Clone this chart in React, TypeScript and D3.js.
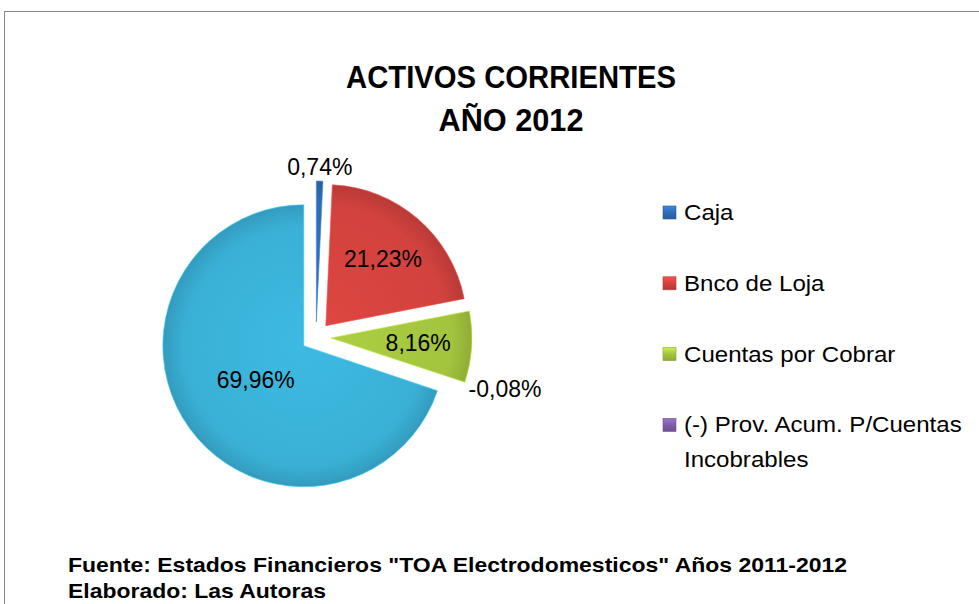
import React from "react";
import * as d3 from "d3";

const categories = ["Caja", "Bnco de Loja", "Cuentas por Cobrar", "(-) Prov. Acum. P/Cuentas Incobrables", "Inventarios"];
const values = [0.74, 21.23, 8.16, -0.08, 69.96];
const labels = ["0,74%", "21,23%", "8,16%", "-0,08%", "69,96%"];
const legendLines = [["Caja"], ["Bnco de Loja"], ["Cuentas por Cobrar"], ["(-) Prov. Acum. P/Cuentas", "Incobrables"]];
const colors = ["#2F6DB5", "#D2423E", "#A3C43E", "#7E5DA8", "#3AB0D6"];
const titleLines = ["ACTIVOS CORRIENTES", "AÑO 2012"];
const footerLines = ["Fuente: Estados Financieros \"TOA Electrodomesticos\" Años 2011-2012", "Elaborado: Las Autoras"];

const W = 979, H = 604;
const CX = 316, CY = 337, R = 141, EXPLODE = 15;
const FONT = "'Liberation Sans', Arial, sans-serif";

export default function App() {
  const data = categories.map((c, i) => ({ c, v: values[i], i }));
  const pie = d3.pie<any>().value((d) => Math.abs(d.v)).sort(null).startAngle(0).endAngle(2 * Math.PI);
  const arcs = pie(data);
  const arcGen = d3.arc<any>().innerRadius(0).outerRadius(R);
  const shade = (c: string, k: number) => d3.color(c)!.brighter(k).formatHex();

  return (
    <svg width={W} height={H} style={{ position: "absolute", left: 0, top: 0, background: "#fff" }} fontFamily={FONT}>
      <defs>
        {colors.map((c, i) => (
          <radialGradient key={i} id={`g${i}`} gradientUnits="userSpaceOnUse" cx={0} cy={0} r={R} fx={0} fy={0}>
            <stop offset="0%" stopColor={shade(c, 0.15)} />
            <stop offset="85%" stopColor={c} />
            <stop offset="100%" stopColor={shade(c, -0.35)} />
          </radialGradient>
        ))}
        {colors.map((c, i) => (
          <linearGradient key={"l" + i} id={`lg${i}`} x1="0" y1="0" x2="0" y2="1">
            <stop offset="0%" stopColor={shade(c, 0.6)} />
            <stop offset="50%" stopColor={c} />
            <stop offset="100%" stopColor={shade(c, -0.4)} />
          </linearGradient>
        ))}
      </defs>
      <rect x={0} y={0} width={W} height={H} fill="#fff" />
      <rect x={4.5} y={11.5} width={1200} height={1200} fill="none" stroke="#8a8a8a" strokeWidth={1} />

      {titleLines.map((t, i) => (
        <text key={t} x={511} y={88 + i * 43} textAnchor="middle" fontSize={31} fontWeight="bold" fill="#000"
          textLength={i === 0 ? 330 : 145} lengthAdjust="spacingAndGlyphs">{t}</text>
      ))}

      {arcs.map((a, i) => {
        if (a.data.v < 0) return null;
        const mid = (a.startAngle + a.endAngle) / 2;
        const dx = Math.sin(mid) * EXPLODE, dy = -Math.cos(mid) * EXPLODE;
        return (
          <g key={i} transform={`translate(${CX + dx},${CY + dy})`}>
            <path d={arcGen(a) as string} fill={`url(#g${i})`} stroke={shade(colors[i], 0.5)} strokeOpacity={0.6} strokeWidth={1} />
          </g>
        );
      })}

      {arcs.map((a, i) => {
        const mid = (a.startAngle + a.endAngle) / 2;
        const ux = Math.sin(mid), uy = -Math.cos(mid);
        const frac = Math.abs(a.data.v) / 100;
        if (frac < 0.03) {
          const dist = R + EXPLODE + 8;
          const ax = CX + ux * dist, ay = CY + uy * dist;
          const horiz = Math.abs(ux) > Math.abs(uy);
          const anchor = horiz ? (ux > 0 ? "start" : "end") : "middle";
          const yy = horiz ? ay + 8 : uy < 0 ? ay + 2 : ay + 18;
          return (
            <text key={"t" + i} x={ax - (horiz ? 3 : 0)} y={yy} textAnchor={anchor} fontSize={23} fill="#000">{labels[i]}</text>
          );
        }
        const rl = frac > 0.5 ? 0.42 * R : 0.62 * R;
        const x = CX + ux * (EXPLODE + rl), y = CY + uy * (EXPLODE + rl);
        return (
          <text key={"t" + i} x={x} y={y + 8} textAnchor="middle" fontSize={23} fill="#000">{labels[i]}</text>
        );
      })}

      {legendLines.map((lines, i) => {
        const base = 220 + i * 70.8;
        return (
          <g key={"lg" + i}>
            <rect x={663} y={base - 14} width={13} height={13} fill={`url(#lg${i})`} stroke={shade(colors[i], -0.5)} strokeWidth={0.6} />
            <g transform="translate(684,0) scale(1.12,1)">
              {lines.map((ln, j) => (
                <text key={j} x={0} y={base + j * 35} fontSize={21.5} fill="#000">{ln}</text>
              ))}
            </g>
          </g>
        );
      })}

      {footerLines.map((t, i) => (
        <text key={t} x={68} y={572 + i * 26} fontSize={21} fontWeight="bold" fill="#000"
          textLength={i === 0 ? 779 : 258} lengthAdjust="spacingAndGlyphs">{t}</text>
      ))}
    </svg>
  );
}
